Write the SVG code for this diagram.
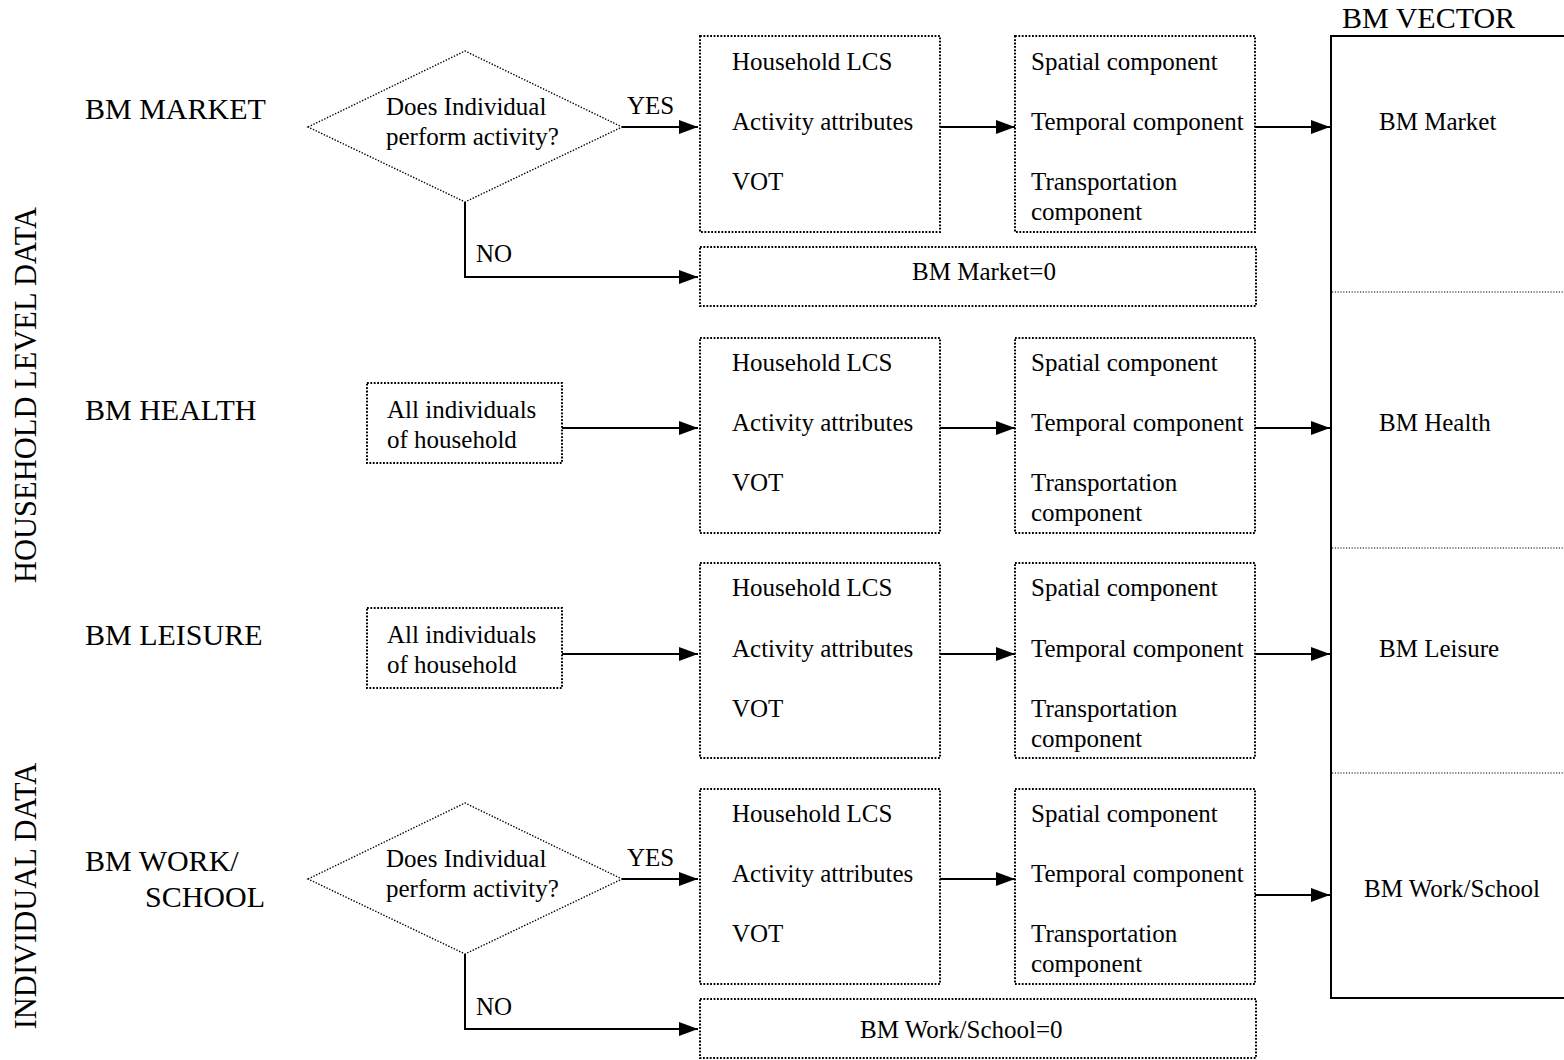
<svg xmlns="http://www.w3.org/2000/svg" width="1564" height="1060" viewBox="0 0 1564 1060">
  <style>
    text { font-family: "Liberation Serif", "Times New Roman", serif; fill: #000; }
    .big { font-size: 30px; }
    .side { font-size: 30.5px; }
    .t { font-size: 25px; }
    .dot { fill: #fff; stroke: #000; stroke-width: 2; stroke-dasharray: 1.8 1.6; }
    .dia { fill: #fff; stroke: #000; stroke-width: 1.4; stroke-dasharray: 1.4 1.6; }
    .sep { fill: none; stroke: #000; stroke-width: 1.2; stroke-dasharray: 1.2 1.6; }
    .ln { fill: none; stroke: #000; stroke-width: 2; }
    .arr { fill: none; stroke: #000; stroke-width: 2; marker-end: url(#ah); }
  </style>
  <defs>
    <marker id="ah" markerUnits="userSpaceOnUse" markerWidth="20" markerHeight="16" refX="19" refY="8" orient="auto">
      <path d="M0,1 L19,8 L0,15 Z" fill="#000"/>
    </marker>
  </defs>
  <rect width="1564" height="1060" fill="#fff"/>

  <!-- section labels -->
  <g id="side-labels">
    <text class="side" transform="translate(36 395) rotate(-90)" text-anchor="middle">HOUSEHOLD LEVEL DATA</text>
    <text class="side" transform="translate(36 896) rotate(-90)" text-anchor="middle">INDIVIDUAL DATA</text>
  </g>

  <!-- row labels -->
  <g id="row-labels">
    <text class="big" x="85" y="119">BM MARKET</text>
    <text class="big" x="85" y="420">BM HEALTH</text>
    <text class="big" x="85" y="645">BM LEISURE</text>
    <text class="big" x="85" y="871">BM WORK/</text>
    <text class="big" x="145" y="907">SCHOOL</text>
  </g>

  <!-- connectors -->
  <g id="connectors">
    <!-- market -->
    <line class="arr" x1="622" y1="127" x2="698" y2="127"/>
    <line class="arr" x1="940" y1="127" x2="1015" y2="127"/>
    <line class="arr" x1="1255" y1="127" x2="1330" y2="127"/>
    <polyline class="arr" points="465,202 465,277 698,277"/>
    <!-- health -->
    <line class="arr" x1="562" y1="428" x2="698" y2="428"/>
    <line class="arr" x1="940" y1="428" x2="1015" y2="428"/>
    <line class="arr" x1="1255" y1="428" x2="1330" y2="428"/>
    <!-- leisure -->
    <line class="arr" x1="562" y1="654" x2="698" y2="654"/>
    <line class="arr" x1="940" y1="654" x2="1015" y2="654"/>
    <line class="arr" x1="1255" y1="654" x2="1330" y2="654"/>
    <!-- work/school -->
    <line class="arr" x1="622" y1="879" x2="698" y2="879"/>
    <line class="arr" x1="940" y1="879" x2="1015" y2="879"/>
    <line class="arr" x1="1255" y1="895" x2="1330" y2="895"/>
    <polyline class="arr" points="465,954 465,1029 698,1029"/>
  </g>

  <g id="edge-labels">
    <text class="t" x="627" y="114">YES</text>
    <text class="t" x="476" y="262">NO</text>
    <text class="t" x="627" y="866">YES</text>
    <text class="t" x="476" y="1015">NO</text>
  </g>

  <!-- BM MARKET row -->
  <g id="market-decision">
    <polygon class="dia" points="308,127 465,51 622,127 465,202"/>
    <text class="t" x="386" y="115">Does Individual</text>
    <text class="t" x="386" y="145">perform activity?</text>
  </g>
  <g id="market-lcs">
    <rect class="dot" x="700" y="36" width="240" height="196"/>
    <text class="t" x="732" y="70">Household LCS</text>
    <text class="t" x="732" y="130">Activity attributes</text>
    <text class="t" x="732" y="190">VOT</text>
  </g>
  <g id="market-components">
    <rect class="dot" x="1015" y="36" width="240" height="196"/>
    <text class="t" x="1031" y="70">Spatial component</text>
    <text class="t" x="1031" y="130">Temporal component</text>
    <text class="t" x="1031" y="190">Transportation</text>
    <text class="t" x="1031" y="220">component</text>
  </g>
  <g id="market-zero">
    <rect class="dot" x="700" y="247" width="556" height="59"/>
    <text class="t" x="912" y="280">BM Market=0</text>
  </g>

  <!-- BM HEALTH row -->
  <g id="health-individuals">
    <rect class="dot" x="367" y="383" width="195" height="80"/>
    <text class="t" x="387" y="418">All individuals</text>
    <text class="t" x="387" y="448">of household</text>
  </g>
  <g id="health-lcs">
    <rect class="dot" x="700" y="338" width="240" height="195"/>
    <text class="t" x="732" y="371">Household LCS</text>
    <text class="t" x="732" y="431">Activity attributes</text>
    <text class="t" x="732" y="491">VOT</text>
  </g>
  <g id="health-components">
    <rect class="dot" x="1015" y="338" width="240" height="195"/>
    <text class="t" x="1031" y="371">Spatial component</text>
    <text class="t" x="1031" y="431">Temporal component</text>
    <text class="t" x="1031" y="491">Transportation</text>
    <text class="t" x="1031" y="521">component</text>
  </g>

  <!-- BM LEISURE row -->
  <g id="leisure-individuals">
    <rect class="dot" x="367" y="608" width="195" height="80"/>
    <text class="t" x="387" y="643">All individuals</text>
    <text class="t" x="387" y="673">of household</text>
  </g>
  <g id="leisure-lcs">
    <rect class="dot" x="700" y="563" width="240" height="195"/>
    <text class="t" x="732" y="596">Household LCS</text>
    <text class="t" x="732" y="657">Activity attributes</text>
    <text class="t" x="732" y="717">VOT</text>
  </g>
  <g id="leisure-components">
    <rect class="dot" x="1015" y="563" width="240" height="195"/>
    <text class="t" x="1031" y="596">Spatial component</text>
    <text class="t" x="1031" y="657">Temporal component</text>
    <text class="t" x="1031" y="717">Transportation</text>
    <text class="t" x="1031" y="747">component</text>
  </g>

  <!-- BM WORK/SCHOOL row -->
  <g id="work-decision">
    <polygon class="dia" points="308,879 465,803 622,879 465,954"/>
    <text class="t" x="386" y="867">Does Individual</text>
    <text class="t" x="386" y="897">perform activity?</text>
  </g>
  <g id="work-lcs">
    <rect class="dot" x="700" y="789" width="240" height="195"/>
    <text class="t" x="732" y="822">Household LCS</text>
    <text class="t" x="732" y="882">Activity attributes</text>
    <text class="t" x="732" y="942">VOT</text>
  </g>
  <g id="work-components">
    <rect class="dot" x="1015" y="789" width="240" height="195"/>
    <text class="t" x="1031" y="822">Spatial component</text>
    <text class="t" x="1031" y="882">Temporal component</text>
    <text class="t" x="1031" y="942">Transportation</text>
    <text class="t" x="1031" y="972">component</text>
  </g>
  <g id="work-zero">
    <rect class="dot" x="700" y="999" width="556" height="59"/>
    <text class="t" x="860" y="1038">BM Work/School=0</text>
  </g>

  <!-- BM VECTOR column -->
  <g id="bm-vector">
    <text class="big" x="1342" y="28">BM VECTOR</text>
    <polyline class="ln" points="1564,36 1331,36 1331,998 1564,998"/>
    <line class="sep" x1="1332" y1="292" x2="1564" y2="292"/>
    <line class="sep" x1="1332" y1="548" x2="1564" y2="548"/>
    <line class="sep" x1="1332" y1="773" x2="1564" y2="773"/>
    <text class="t" x="1379" y="130">BM Market</text>
    <text class="t" x="1379" y="431">BM Health</text>
    <text class="t" x="1379" y="657">BM Leisure</text>
    <text class="t" x="1364" y="897">BM Work/School</text>
  </g>
</svg>
